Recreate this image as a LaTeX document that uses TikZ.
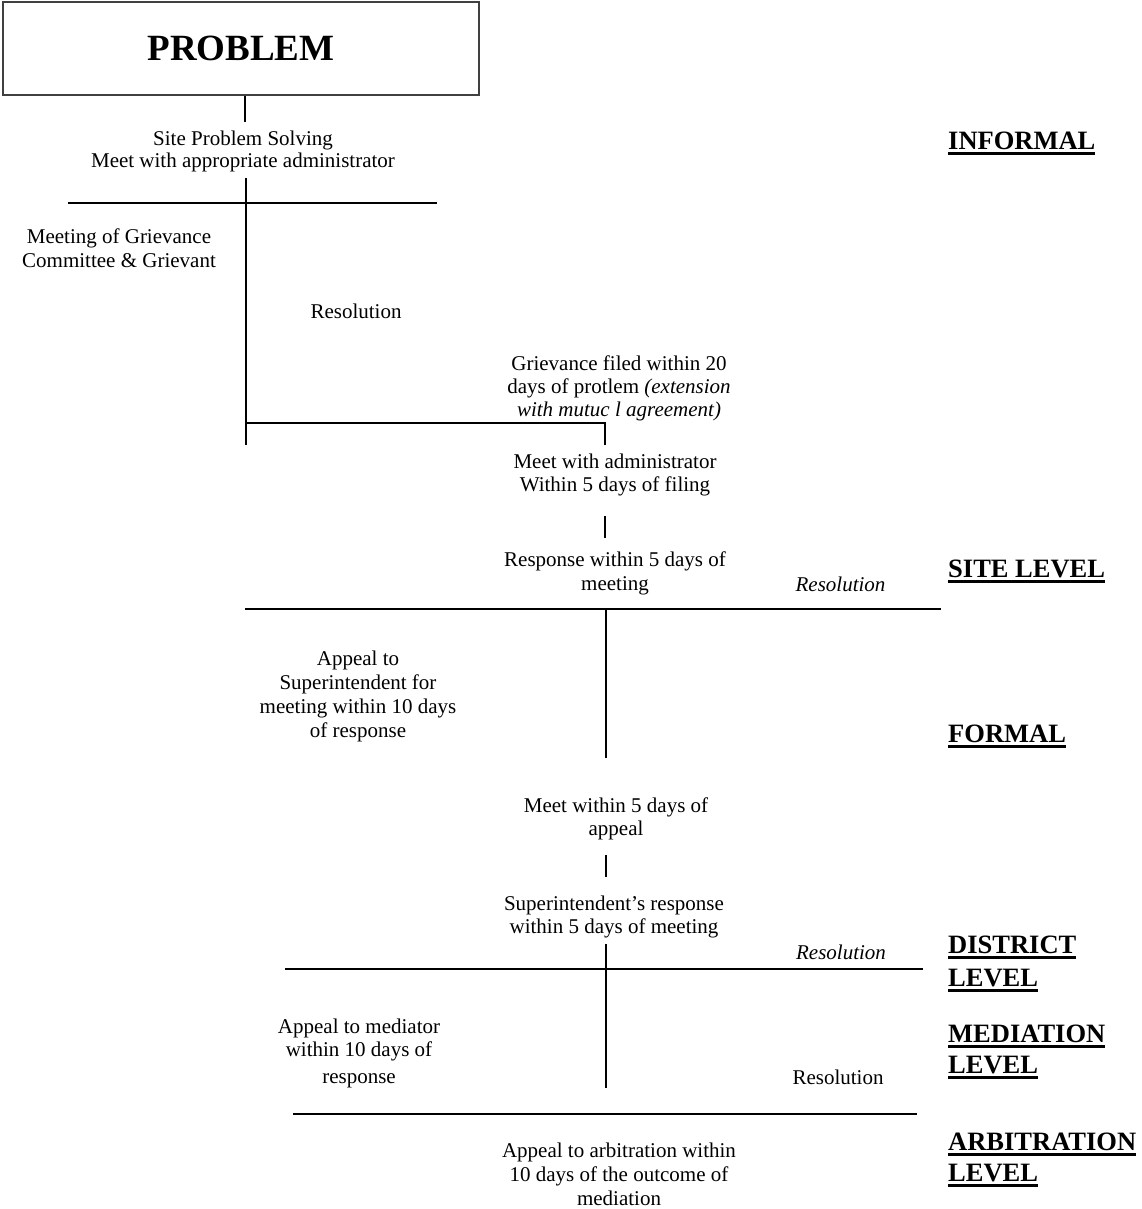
\documentclass[tikz,border=0pt]{standalone}
\usepackage{fontspec}
\setmainfont{Liberation Serif}
\newsavebox{\ulbox}
\newcommand{\ulx}[1]{\sbox{\ulbox}{#1}\rlap{\rule[-5.5pt]{\wd\ulbox}{3pt}}\usebox{\ulbox}}
\newcommand{\mlc}[1]{\begin{tabular}[t]{@{}c@{}}#1\end{tabular}}
\newcommand{\mll}[1]{\begin{tabular}[t]{@{}l@{}}#1\end{tabular}}
\begin{document}
\begin{tikzpicture}[x=1pt,y=-1pt,
  txt/.style={inner sep=0pt, anchor=base, font=\fontsize{21}{23.5}\selectfont},
  lvl/.style={inner sep=0pt, anchor=base west, font=\fontsize{26.5}{32}\selectfont\bfseries},
  ln/.style={line width=1.8pt, line cap=butt}]
\useasboundingbox (0,0) rectangle (1141,1209);
\fill[white] (0,0) rectangle (1141,1209);

% title box
\node[draw=black!75, line width=2.2pt, minimum width=476pt, minimum height=93pt,
      inner sep=0pt, font=\fontsize{37}{40}\selectfont\bfseries] (problem) at (241,48.5) {PROBLEM};

% texts
\node[txt, font=\fontsize{21}{22.5}\selectfont] (site) at (243,145.5)
  {\mlc{Site Problem Solving\\Meet with appropriate administrator}};
\node[txt, font=\fontsize{21}{24}\selectfont] (meeting) at (119,243)
  {\mlc{Meeting of Grievance\\Committee \& Grievant}};
\node[txt] (res1) at (356,318) {Resolution};
\node[txt, font=\fontsize{21}{23.2}\selectfont] (filed) at (619,370.5)
  {\mlc{Grievance filed within 20\\days of protlem \textit{(extension}\\\textit{with mutuc l agreement)}}};
\node[txt] (meetadm) at (615,468)
  {\mlc{Meet with administrator\\Within 5 days of filing}};
\node[txt, font=\fontsize{21}{24}\selectfont] (resp) at (615,566)
  {\mlc{Response within 5 days of\\meeting}};
\node[txt, font=\fontsize{21}{23.5}\selectfont\itshape] (res2) at (840.5,591) {Resolution};
\node[txt, font=\fontsize{21}{24.2}\selectfont] (appsup) at (358,665)
  {\mlc{Appeal to\\Superintendent for\\meeting within 10 days\\of response}};
\node[txt] (meet5) at (616,812)
  {\mlc{Meet within 5 days of\\appeal}};
\node[txt] (supresp) at (614,910)
  {\mlc{Superintendent’s response\\within 5 days of meeting}};
\node[txt, font=\fontsize{21}{23.5}\selectfont\itshape] (res3) at (841,959) {Resolution};
\node[txt, font=\fontsize{21}{23}\selectfont] (appmed) at (359,1033)
  {\mlc{Appeal to mediator\\within 10 days of\\[4pt]response}};
\node[txt] (res4) at (838,1084) {Resolution};
\node[txt, font=\fontsize{21}{24}\selectfont] (apparb) at (619,1157)
  {\mlc{Appeal to arbitration within\\10 days of the outcome of\\mediation}};

% level labels
\node[lvl] (informal) at (948,150) {\ulx{INFORMAL}};
\node[lvl] (sitelvl) at (948,577) {\ulx{SITE LEVEL}};
\node[lvl] (formal) at (948,742) {\ulx{FORMAL}};
\node[lvl, font=\fontsize{26.5}{33}\selectfont\bfseries] (district) at (948,953)
  {\mll{\ulx{DISTRICT}\\\ulx{LEVEL}}};
\node[lvl, font=\fontsize{26.5}{31}\selectfont\bfseries] (mediation) at (948,1042)
  {\mll{\ulx{MEDIATION}\\\ulx{LEVEL}}};
\node[lvl, font=\fontsize{26.5}{31}\selectfont\bfseries] (arbitration) at (948,1150)
  {\mll{\ulx{ARBITRATION}\\\ulx{LEVEL}}};

% junction coordinates
\coordinate (p1) at (245,122);
\coordinate (h1l) at (68,203);
\coordinate (h1r) at (437,203);
\coordinate (v1t) at (246,178);
\coordinate (v1b) at (246,445);
\coordinate (j1) at (246,423);
\coordinate (j2) at (605,423);
\coordinate (j3) at (605,445);
\coordinate (s1t) at (605,516);
\coordinate (s1b) at (605,538);
\coordinate (h2l) at (245,609);
\coordinate (h2r) at (941,609);
\coordinate (v2t) at (606,610);
\coordinate (v2b) at (606,758);
\coordinate (s2t) at (606,855);
\coordinate (s2b) at (606,877);
\coordinate (v3t) at (606,944);
\coordinate (v3b) at (606,1088);
\coordinate (h3l) at (285,969);
\coordinate (h3r) at (923,969);
\coordinate (h4l) at (293,1114);
\coordinate (h4r) at (917,1114);

% connectors
\draw[ln] (problem.south -| p1) -- (p1);
\draw[ln] (h1l) -- (h1r);
\draw[ln] (v1t) -- (v1b);
\draw[ln] (j1) -- (j2) -- (j3);
\draw[ln] (s1t) -- (s1b);
\draw[ln] (h2l) -- (h2r);
\draw[ln] (v2t) -- (v2b);
\draw[ln] (s2t) -- (s2b);
\draw[ln] (v3t) -- (v3b);
\draw[ln] (h3l) -- (h3r);
\draw[ln] (h4l) -- (h4r);
\end{tikzpicture}
\end{document}
